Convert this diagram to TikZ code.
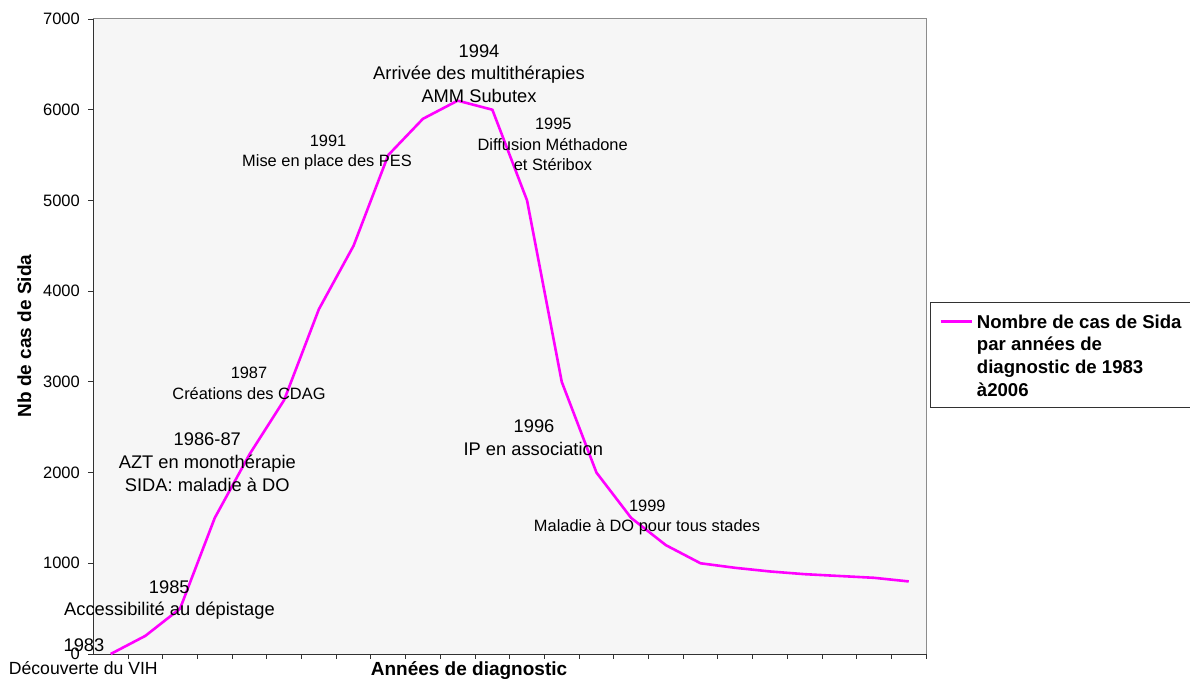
\documentclass[tikz,border=0pt]{standalone}
\usepackage{fontspec}
\setmainfont{Liberation Sans}
\definecolor{plotbg}{RGB}{246,246,246}
\definecolor{framegray}{RGB}{140,140,140}
\definecolor{axisgray}{RGB}{50,50,50}
\definecolor{curvecol}{RGB}{255,0,255}
\tikzset{
  big/.style={font=\fontsize{18.3}{22}\selectfont, inner sep=0pt, anchor=base},
  small/.style={font=\fontsize{16.4}{20}\selectfont, inner sep=0pt, anchor=base},
  ticklab/.style={font=\fontsize{16.5}{20}\selectfont, anchor=east, inner sep=0pt},
  axtitle/.style={font=\bfseries\fontsize{19}{22}\selectfont, inner sep=0pt, anchor=base},
  legtext/.style={font=\bfseries\fontsize{18.6}{22}\selectfont, inner sep=0pt, anchor=base west},
  curveline/.style={draw=curvecol, line width=2.6pt, line join=round},
  axisline/.style={draw=axisgray, line width=1pt}
}
\begin{document}
\begin{tikzpicture}[x=1pt,y=-1pt]
\useasboundingbox (0,0) rectangle (1190,679);
\clip (0,0) rectangle (1190,679);
\fill[white] (0,0) rectangle (1190,679);
% plot area
\fill[plotbg] (93.3,19) rectangle (926,654);
\draw[framegray, line width=1pt] (93.3,19) -- (926,19) -- (926,654);
\draw[axisline] (93.3,19) -- (93.3,654) -- (926,654);
% y ticks and labels
\foreach \v in {0,1000,...,7000} {
  \draw[axisline] (88,{654-0.090714*\v}) -- (93.3,{654-0.090714*\v});
  \node[ticklab] (y\v) at (80,{654-0.090714*\v}) {\v};
}
% x ticks
\foreach \k in {1,...,24} {
  \draw[axisline] ({93.3+34.7*\k},654) -- ({93.3+34.7*\k},659);
}
% curve
\begin{scope}[xshift=110.65pt, yshift=-654pt, x=34.7pt, y=0.090714pt]
\draw[curveline] plot coordinates {(0,0) (1,200) (2,500) (3,1500) (4,2200) (5,2800) (6,3800) (7,4500) (8,5500) (9,5900) (10,6100) (11,6000) (12,5000) (13,3000) (14,2000) (15,1500) (16,1200) (17,1000) (18,950) (19,910) (20,880) (21,860) (22,840) (23,800)};
\end{scope}
% axis titles
\node[axtitle, rotate=90] (ytitle) at (31,336) {Nb de cas de Sida};
\node[axtitle] (xtitle) at (469,675.5) {Années de diagnostic};
% annotations
\node[big] (a83) at (84,651.5) {1983};
\node[big, font=\fontsize{17.6}{22}\selectfont] (a83b) at (83.3,674.8) {Découverte du VIH};
\node[big] (a85) at (169.3,593.2) {1985};
\node[big] (a85b) at (169.5,615.5) {Accessibilité au dépistage};
\node[big] (a86) at (207.3,445.5) {1986-87};
\node[big] (a86b) at (207.3,468.8) {AZT en monothérapie};
\node[big] (a86c) at (207.3,491.5) {SIDA: maladie à DO};
\node[small] (a87) at (249,378.8) {1987};
\node[small] (a87b) at (249,399.8) {Créations des CDAG};
\node[small] (a91) at (328,146.5) {1991};
\node[small] (a91b) at (327,166.8) {Mise en place des PES};
\node[big] (a94) at (479,57.2) {1994};
\node[big] (a94b) at (479,79.8) {Arrivée des multithérapies};
\node[big] (a94c) at (479,102.2) {AMM Subutex};
\node[small] (a95) at (553.3,129.1) {1995};
\node[small] (a95b) at (552.7,150.8) {Diffusion Méthadone};
\node[small] (a95c) at (553,170.8) {et Stéribox};
\node[big] (a96) at (534,432.5) {1996};
\node[big] (a96b) at (533.3,455.5) {IP en association};
\node[small] (a99) at (647.3,511.5) {1999};
\node[small] (a99b) at (647,531.8) {Maladie à DO pour tous stades};
% legend
\draw[fill=white, draw=axisgray, line width=1pt] (930.5,302.5) rectangle (1200,407.5);
\coordinate (l1) at (940.7,321.7);
\coordinate (l2) at (971.7,321.7);
\draw[curveline] (l1) -- (l2);
\node[legtext] (lg1) at (976.7,328) {Nombre de cas de Sida};
\node[legtext] (lg2) at (976.7,350.7) {par années de};
\node[legtext] (lg3) at (976.7,373.4) {diagnostic de 1983};
\node[legtext] (lg4) at (976.7,396.1) {à2006};
\end{tikzpicture}
\end{document}
